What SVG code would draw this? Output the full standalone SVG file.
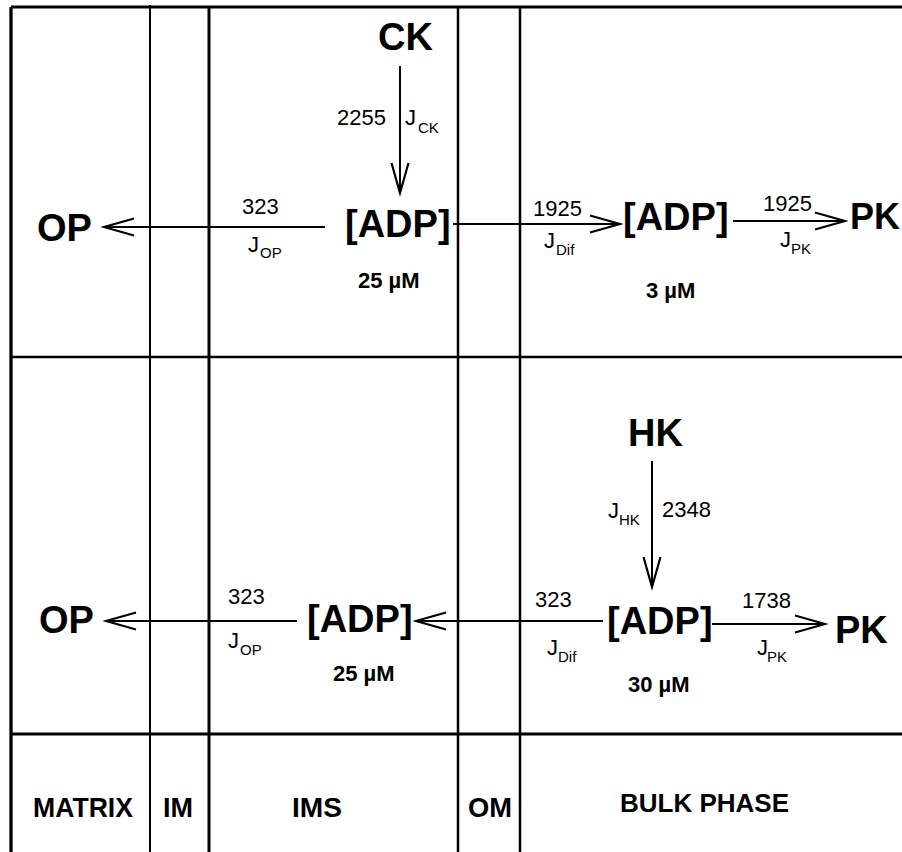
<svg xmlns="http://www.w3.org/2000/svg" width="902" height="852" viewBox="0 0 902 852">
<style>
text{font-family:"Liberation Sans",Arial,sans-serif;fill:#000}
.big{font-size:38px;font-weight:bold}
.num{font-size:22px}
.sub{font-size:15px}
.conc{font-size:22px;font-weight:bold}
.lab{font-size:28px;font-weight:bold}
.grid{stroke:#000;fill:none}
.conn{stroke:#000;stroke-width:2;fill:none;marker-end:url(#ah)}
</style>
<defs>
<marker id="ah" markerUnits="userSpaceOnUse" markerWidth="36" markerHeight="24" viewBox="-33 -12 36 24" refX="0" refY="0" orient="auto">
<path d="M-30,-8.5 L0,0 L-30,8.5" fill="none" stroke="#000" stroke-width="2.2"/>
</marker>
</defs>
<rect width="902" height="852" fill="#fff"/>
<g id="grid" class="grid">
<path d="M11,7 H902" stroke-width="3"/>
<path d="M11,7 V852" stroke-width="3.3"/>
<path d="M150,5 V852" stroke-width="2"/>
<path d="M209,7 V852" stroke-width="3"/>
<path d="M458,7 V852" stroke-width="2.5"/>
<path d="M520,7 V852" stroke-width="2.5"/>
<path d="M11,357 H902" stroke-width="2.5"/>
<path d="M11,734 H902" stroke-width="3"/>
</g>
<g id="connectors">
<path class="conn" d="M400,66 V193"/>
<path class="conn" d="M325,227 H104"/>
<path class="conn" d="M453,224 H620"/>
<path class="conn" d="M733,221 H845"/>
<path class="conn" d="M652,461 V587"/>
<path class="conn" d="M297,621 H106"/>
<path class="conn" d="M603,621 H416"/>
<path class="conn" d="M712,624 H825"/>
</g>
<g id="ck"><text class="big" x="378" y="50">CK</text></g>
<g id="jck"><text class="num" x="337" y="125">2255</text><text class="num" x="405" y="125">J</text><text class="sub" x="418" y="133">CK</text></g>
<g id="adp-ims-top"><text class="big" x="345" y="237">[ADP]</text><text class="conc" x="358" y="288">25 µM</text></g>
<g id="op-top"><text class="big" x="37" y="241">OP</text></g>
<g id="jop-top"><text class="num" x="242" y="214">323</text><text class="num" x="248" y="252">J</text><text class="sub" x="260" y="258">OP</text></g>
<g id="jdif-top"><text class="num" x="533" y="216">1925</text><text class="num" x="544" y="248">J</text><text class="sub" x="556" y="255">Dif</text></g>
<g id="adp-bulk-top"><text class="big" x="623" y="230">[ADP]</text><text class="conc" x="646" y="298">3 µM</text></g>
<g id="jpk-top"><text class="num" x="763" y="211">1925</text><text class="num" x="780" y="247">J</text><text class="sub" x="791" y="254">PK</text></g>
<g id="pk-top"><text class="big" x="850" y="229" style="font-size:36px">PK</text></g>
<g id="hk"><text class="big" x="628" y="446">HK</text></g>
<g id="jhk"><text class="num" x="608" y="518">J</text><text class="sub" x="619" y="525">HK</text><text class="num" x="662" y="517">2348</text></g>
<g id="op-bottom"><text class="big" x="39" y="633">OP</text></g>
<g id="jop-bottom"><text class="num" x="228" y="604">323</text><text class="num" x="228" y="648">J</text><text class="sub" x="240" y="655">OP</text></g>
<g id="adp-ims-bottom"><text class="big" x="307" y="632">[ADP]</text><text class="conc" x="333" y="681">25 µM</text></g>
<g id="jdif-bottom"><text class="num" x="535" y="607">323</text><text class="num" x="547" y="655">J</text><text class="sub" x="558" y="662">Dif</text></g>
<g id="adp-bulk-bottom"><text class="big" x="607" y="634">[ADP]</text><text class="conc" x="628" y="692">30 µM</text></g>
<g id="jpk-bottom"><text class="num" x="742" y="608">1738</text><text class="num" x="757" y="655">J</text><text class="sub" x="767" y="662">PK</text></g>
<g id="pk-bottom"><text class="big" x="835" y="643">PK</text></g>
<g id="labels">
<text class="lab" x="33" y="817" textLength="100" lengthAdjust="spacingAndGlyphs">MATRIX</text>
<text class="lab" x="163" y="817" textLength="30" lengthAdjust="spacingAndGlyphs">IM</text>
<text class="lab" x="292" y="817" textLength="50" lengthAdjust="spacingAndGlyphs">IMS</text>
<text class="lab" x="468" y="817" textLength="44" lengthAdjust="spacingAndGlyphs">OM</text>
<text class="lab" x="620" y="812" textLength="169" lengthAdjust="spacingAndGlyphs" style="font-size:26px">BULK PHASE</text>
</g>
</svg>
